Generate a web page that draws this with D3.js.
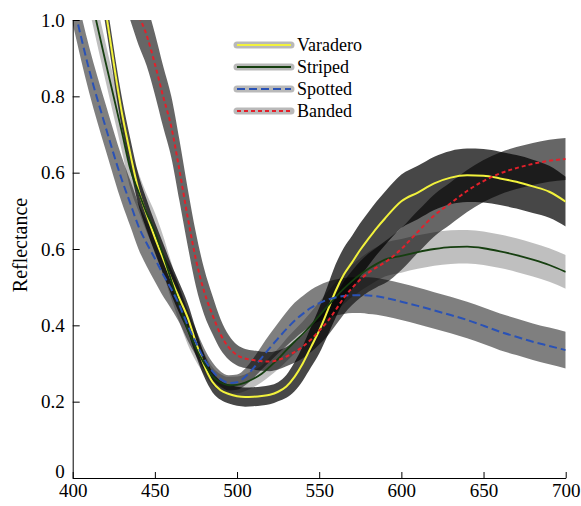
<!DOCTYPE html>
<html>
<head>
<meta charset="utf-8">
<script src="https://cdn.jsdelivr.net/npm/d3@7"></script>
<style>
  body { margin: 0; background: #fff; }
  svg text { font-family: "Liberation Serif", "Times New Roman", serif; }
</style>
</head>
<body>
<script>
// wavelength grid (nm)
var wavelengths = [400,410,420,430,435,440,445,450,455,460,465,470,475,480,485,490,495,500,505,510,515,520,525,530,535,540,545,550,555,560,565,570,575,580,585,590,600,610,620,630,640,650,660,670,680,690,700];

// mean reflectance and half-width of the grey band, per series
var varaderoMean = [1.75,1.48,1.225,0.955,0.85,0.755,0.69,0.63,0.575,0.52,0.47,0.42,0.355,0.295,0.252,0.23,0.22,0.214,0.212,0.213,0.215,0.218,0.226,0.24,0.265,0.30,0.343,0.386,0.437,0.49,0.533,0.565,0.598,0.627,0.655,0.68,0.725,0.748,0.772,0.787,0.793,0.792,0.785,0.776,0.764,0.75,0.724];
var varaderoSd   = [0.04,0.04,0.04,0.04,0.04,0.04,0.04,0.04,0.04,0.04,0.04,0.038,0.035,0.03,0.027,0.025,0.025,0.025,0.025,0.025,0.025,0.025,0.025,0.03,0.038,0.045,0.053,0.06,0.065,0.07,0.07,0.07,0.07,0.07,0.07,0.07,0.07,0.07,0.07,0.07,0.07,0.07,0.07,0.07,0.07,0.068,0.065];

var stripedMean = [1.47,1.28,1.09,0.905,0.81,0.75,0.694,0.645,0.585,0.517,0.452,0.39,0.34,0.30,0.267,0.25,0.243,0.244,0.25,0.26,0.273,0.292,0.312,0.335,0.357,0.377,0.4,0.425,0.45,0.474,0.496,0.516,0.533,0.548,0.561,0.572,0.582,0.592,0.6,0.605,0.606,0.602,0.594,0.584,0.572,0.558,0.54];
var stripedSd   = [0.05,0.05,0.05,0.05,0.05,0.05,0.05,0.05,0.05,0.048,0.044,0.04,0.034,0.028,0.024,0.022,0.022,0.022,0.022,0.022,0.022,0.025,0.027,0.03,0.031,0.033,0.035,0.036,0.038,0.039,0.04,0.042,0.043,0.044,0.044,0.044,0.044,0.044,0.044,0.044,0.044,0.044,0.044,0.044,0.044,0.044,0.044];

var spottedMean = [1.25,1.07,0.92,0.78,0.72,0.66,0.615,0.575,0.533,0.495,0.452,0.40,0.355,0.312,0.28,0.259,0.249,0.251,0.265,0.288,0.315,0.341,0.366,0.39,0.412,0.43,0.446,0.458,0.467,0.473,0.477,0.479,0.479,0.478,0.476,0.472,0.462,0.451,0.439,0.427,0.414,0.399,0.383,0.37,0.357,0.346,0.335];
var spottedSd   = [0.06,0.06,0.06,0.06,0.06,0.06,0.06,0.06,0.057,0.052,0.046,0.04,0.034,0.028,0.023,0.02,0.02,0.02,0.022,0.026,0.031,0.036,0.04,0.044,0.047,0.047,0.047,0.047,0.047,0.047,0.047,0.047,0.047,0.048,0.048,0.048,0.048,0.048,0.048,0.048,0.048,0.048,0.048,0.048,0.048,0.048,0.048];

var bandedMean = [1.75,1.61,1.47,1.34,1.28,1.215,1.16,1.085,1.0,0.92,0.805,0.683,0.572,0.488,0.428,0.376,0.342,0.322,0.313,0.309,0.306,0.305,0.309,0.318,0.33,0.344,0.363,0.386,0.41,0.44,0.472,0.498,0.52,0.538,0.552,0.565,0.6,0.645,0.688,0.72,0.752,0.778,0.798,0.812,0.823,0.831,0.836];
var bandedSd   = [0.08,0.08,0.08,0.08,0.08,0.08,0.08,0.08,0.08,0.08,0.08,0.075,0.07,0.06,0.05,0.04,0.032,0.027,0.025,0.025,0.025,0.025,0.025,0.025,0.028,0.03,0.033,0.036,0.038,0.04,0.043,0.045,0.048,0.05,0.052,0.055,0.055,0.055,0.055,0.055,0.055,0.055,0.055,0.055,0.055,0.055,0.055];

var seriesNames = ["Varadero", "Striped", "Spotted", "Banded"];

var xTicks = [400, 450, 500, 550, 600, 650, 700];
var yTicks = [0, 0.2, 0.4, 0.6, 0.8, 1.0, 1.2];
var yTickLabels = ["0", "0.2", "0.4", "0.6", "0.6", "0.8", "1.0"];

function draw() {
  "use strict";
  var width = 581, height = 506;
  var plotLeft = 72.7, plotRight = 565.7, plotTop = 20, plotBottom = 478;

  var svg = d3.select("body").append("svg")
      .attr("width", width)
      .attr("height", height);

  var x = d3.scaleLinear().domain([400, 700]).range([plotLeft, plotRight]);
  var y = d3.scaleLinear().domain([0, 1.2]).range([plotBottom, plotTop]);

  svg.append("clipPath").attr("id", "plot")
    .append("rect")
      .attr("x", plotLeft).attr("y", plotTop)
      .attr("width", plotRight - plotLeft).attr("height", plotBottom - plotTop);

  var series = [
    {mean: varaderoMean, sd: varaderoSd, band: 0.72, color: "#f2f23c", width: 2,   dash: null},
    {mean: stripedMean,  sd: stripedSd,  band: 0.25, color: "#163f10", width: 1.8, dash: null},
    {mean: spottedMean,  sd: spottedSd,  band: 0.5,  color: "#2a52b6", width: 2,   dash: "8,4"},
    {mean: bandedMean,   sd: bandedSd,   band: 0.6,  color: "#e3202a", width: 2,   dash: "4,3"}
  ];

  series.forEach(function(s, k) {
    s.name = seriesNames[k];
    s.points = wavelengths.map(function(w, i) {
      return {w: w, m: s.mean[i], sd: s.sd[i]};
    });
  });

  var area = d3.area()
      .curve(d3.curveMonotoneX)
      .x(function(d) { return x(d.w); })
      .y0(function(d) { return y(d.m - d.sd); })
      .y1(function(d) { return y(d.m + d.sd); });

  var line = d3.line()
      .curve(d3.curveMonotoneX)
      .x(function(d) { return x(d.w); })
      .y(function(d) { return y(d.m); });

  var plot = svg.append("g").attr("clip-path", "url(#plot)");

  // grey bands first, then the mean lines on top
  plot.selectAll("path.band")
    .data(series)
    .enter().append("path")
      .attr("class", "band")
      .attr("d", function(s) { return area(s.points); })
      .attr("fill", "#000")
      .attr("fill-opacity", function(s) { return s.band; });

  plot.selectAll("path.mean")
    .data(series)
    .enter().append("path")
      .attr("class", "mean")
      .attr("d", function(s) { return line(s.points); })
      .attr("fill", "none")
      .attr("stroke", function(s) { return s.color; })
      .attr("stroke-width", function(s) { return s.width; })
      .attr("stroke-dasharray", function(s) { return s.dash; });

  // axes
  var xAxis = d3.axisBottom(x)
      .tickValues(xTicks)
      .tickFormat(d3.format("d"))
      .tickSizeInner(-6)
      .tickSizeOuter(0)
      .tickPadding(6);

  var yAxis = d3.axisLeft(y)
      .tickValues(yTicks)
      .tickFormat(function(d, i) { return yTickLabels[i]; })
      .tickSizeInner(-7)
      .tickSizeOuter(0)
      .tickPadding(8);

  var gx = svg.append("g")
      .attr("transform", "translate(0," + plotBottom + ")")
      .call(xAxis);

  var gy = svg.append("g")
      .attr("transform", "translate(" + plotLeft + ",0)")
      .call(yAxis);

  [gx, gy].forEach(function(g) {
    g.selectAll("text")
      .style("font-family", "'Liberation Serif', 'Times New Roman', serif")
      .style("font-size", "19px")
      .attr("fill", "#000");
    g.selectAll("line, path").attr("stroke", "#000");
  });

  // the "0" label sits a little above the corner, clear of "400"
  gy.selectAll(".tick text")
    .filter(function(d) { return d === 0; })
    .attr("dy", "-0.05em");

  svg.append("text")
      .attr("transform", "translate(27,245) rotate(-90)")
      .style("text-anchor", "middle")
      .style("font-size", "20px")
      .text("Reflectance");

  // legend
  var legend = svg.append("g")
      .attr("transform", "translate(235,45)");

  var rows = legend.selectAll("g")
    .data(series)
    .enter().append("g")
      .attr("transform", function(d, i) { return "translate(0," + (i * 22) + ")"; });

  rows.append("line")
      .attr("x1", 2).attr("x2", 56)
      .attr("stroke", "#b9b9b9")
      .attr("stroke-width", 7)
      .attr("stroke-linecap", "round");

  rows.append("line")
      .attr("x1", 2).attr("x2", 56)
      .attr("stroke", function(d) { return d.color; })
      .attr("stroke-width", 2)
      .attr("stroke-dasharray", function(d) { return d.dash; });

  rows.append("text")
      .attr("x", 62)
      .attr("dy", "0.35em")
      .style("font-size", "18px")
      .text(function(d) { return d.name; });
}

draw();
</script>
</body>
</html>
